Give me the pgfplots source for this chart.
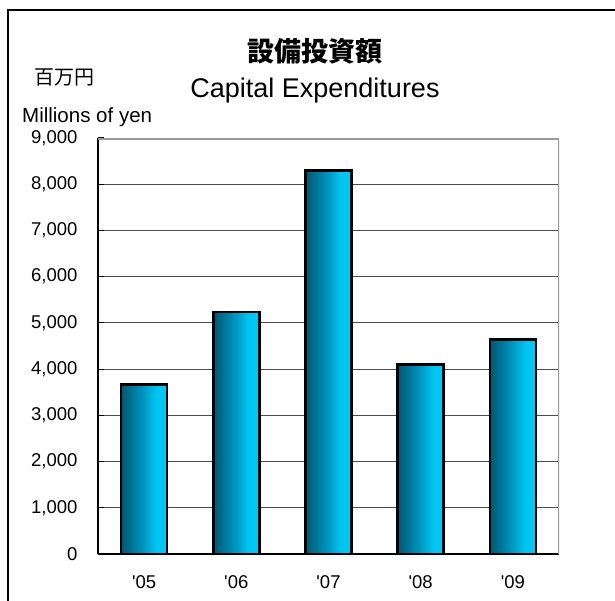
\documentclass[border=0pt]{standalone}
\usepackage{fontspec}
\setmainfont{Liberation Sans}
\newfontfamily\cjk{Noto Sans CJK JP}
\usepackage{pgfplots}
\pgfplotsset{compat=1.18}

\definecolor{gridc}{HTML}{4D4D4D}
\definecolor{framec}{HTML}{9A9A9A}
\pgfdeclarehorizontalshading{barshade}{100bp}{rgb(0bp)=(0,0.34,0.44); rgb(25bp)=(0,0.34,0.44); rgb(50bp)=(0,0.60,0.76); rgb(63bp)=(0,0.77,0.94); rgb(75bp)=(0,0.79,0.96); rgb(100bp)=(0,0.79,0.96)}
\tikzset{barsty/.style={ybar, bar width=46pt, bar shift=0pt, mark=none,
    shading=barshade, draw=black, line width=2.5pt}}

\begin{document}
\begin{tikzpicture}
\useasboundingbox (0pt,0pt) rectangle (615pt,-601pt);
% outer frame, only left and top show
\draw[line width=1.5pt] (8pt,-620pt) -- (8pt,-10pt) -- (630pt,-10pt);

\node[font=\cjk\bfseries\fontsize{27}{30}\selectfont] at (315pt,-51pt) {設備投資額};
\node[font=\cjk\fontsize{20}{22}\selectfont] at (64pt,-77pt) {百万円};
\node[font=\fontsize{27}{30}\selectfont, anchor=base] at (315pt,-98pt) {Capital Expenditures};
\node[font=\fontsize{20.5}{22}\selectfont, anchor=base west, inner sep=0pt] at (22pt,-123pt) {Millions of yen};

\begin{axis}[
  at={(98pt,-554pt)}, anchor=south west,
  scale only axis, width=461pt, height=416pt,
  xmin=-0.5, xmax=4.5, ymin=0, ymax=9000,
  axis x line*=bottom, axis y line*=left,
  axis line style={black, line width=2pt},
  xtick={0,1,2,3,4},
  xticklabels={\textquotesingle05,\textquotesingle06,\textquotesingle07,\textquotesingle08,\textquotesingle09},
  x tick style={draw=none},
  ytick={0,1000,...,9000},
  y tick style={black, line width=1.2pt},
  tick align=inside, major tick length=6pt,
  ymajorgrids, major grid style={gridc, line width=1pt},
  /pgf/number format/assume math mode=true,
  /pgf/number format/1000 sep={,},
  tick label style={font=\fontsize{18.5}{20}\selectfont},
  y tick label style={xshift=-17pt},
  x tick label style={yshift=-18pt},
  scaled y ticks=false,
]
\addplot[barsty] coordinates {(0,3670)};
\addplot[barsty] coordinates {(1,5240)};
\addplot[barsty] coordinates {(2,8300)};
\addplot[barsty] coordinates {(3,4100)};
\addplot[barsty] coordinates {(4,4640)};
\draw[framec, line width=3pt] (rel axis cs:0,1) -- (rel axis cs:1,1) -- (rel axis cs:1,0);
\end{axis}
\end{tikzpicture}
\end{document}
